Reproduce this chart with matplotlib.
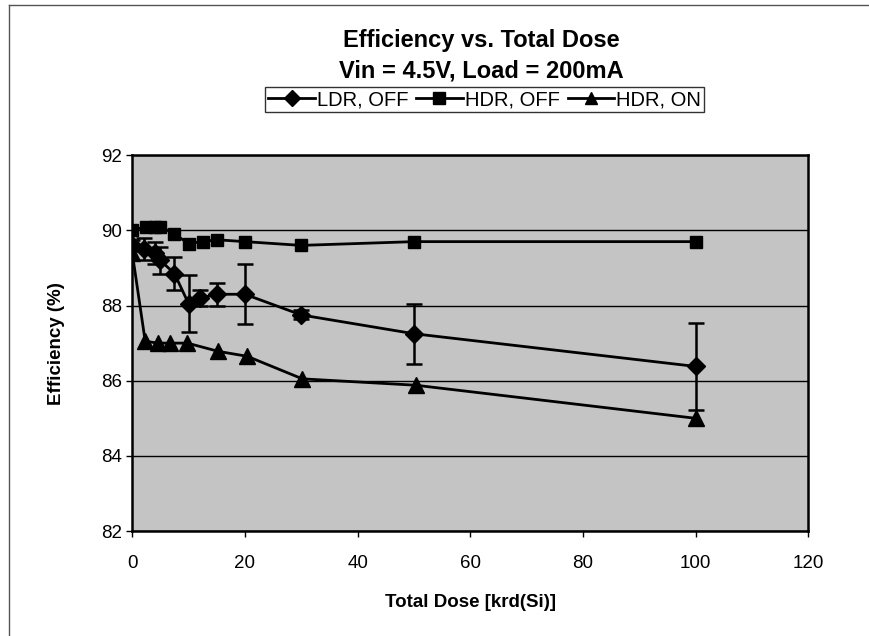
import matplotlib
matplotlib.use("Agg")
import matplotlib.pyplot as plt
from matplotlib.lines import Line2D

plt.rcParams['font.family'] = ['Liberation Sans', 'DejaVu Sans']

# Data
ldr_dose = [0, 2, 4, 5, 7.5, 10, 12, 15, 20, 30, 50, 100]
ldr_eff = [89.6, 89.5, 89.4, 89.2, 88.85, 88.05, 88.2, 88.3, 88.3, 87.75, 87.25, 86.38]
ldr_err = [0.15, 0.3, 0.3, 0.35, 0.45, 0.75, 0.2, 0.3, 0.8, 0.12, 0.8, 1.15]

hdr_off_dose = [0, 2.5, 4, 5, 7.5, 10, 12.5, 15, 20, 30, 50, 100]
hdr_off_eff = [90.0, 90.1, 90.1, 90.1, 89.9, 89.65, 89.7, 89.75, 89.7, 89.6, 89.7, 89.7]

hdr_on_dose = [0, 2.3, 4.6, 6.7, 9.8, 15.3, 20.4, 30.2, 50.3, 100]
hdr_on_eff = [89.4, 87.05, 87.0, 87.0, 87.0, 86.78, 86.65, 86.05, 85.88, 85.0]

fig = plt.figure(figsize=(8.7, 6.36), dpi=100)
ax = fig.add_axes([0.152, 0.165, 0.777, 0.591])
ax.set_facecolor('#c4c4c4')

ax.errorbar(ldr_dose, ldr_eff, yerr=ldr_err, color='black', lw=2, marker='D',
            ms=9, capsize=6, elinewidth=1.8, capthick=1.8, label='LDR, OFF', zorder=4)
ax.plot(hdr_off_dose, hdr_off_eff, color='black', lw=2, marker='s', ms=9,
        label='HDR, OFF', zorder=3)
ax.plot(hdr_on_dose, hdr_on_eff, color='black', lw=2, marker='^', ms=11,
        label='HDR, ON', zorder=3)

ax.set_xlim(0, 120)
ax.set_ylim(82, 92)
ax.set_xticks(range(0, 121, 20))
ax.set_yticks(range(82, 93, 2))
ax.yaxis.grid(True, color='black', lw=1)
ax.set_axisbelow(True)
for s in ax.spines.values():
    s.set_linewidth(1.8)
ax.tick_params(axis='both', labelsize=13.5, length=4, width=1)
ax.tick_params(axis='x', pad=13)
ax.set_xlabel('Total Dose [krd(Si)]', fontsize=13.5, fontweight='bold', labelpad=16)
ax.set_ylabel('Efficiency (%)', fontsize=13.5, fontweight='bold', labelpad=26)

# two title lines
fig.text(0.553, 0.937, 'Efficiency vs. Total Dose', ha='center', va='center',
         fontsize=17, fontweight='bold')
fig.text(0.553, 0.889, 'Vin = 4.5V, Load = 200mA', ha='center', va='center',
         fontsize=17, fontweight='bold')

handles = [Line2D([], [], color='black', lw=2, marker='D', ms=8),
           Line2D([], [], color='black', lw=2, marker='s', ms=8),
           Line2D([], [], color='black', lw=2, marker='^', ms=9)]
leg = fig.legend(handles, ['LDR, OFF', 'HDR, OFF', 'HDR, ON'], loc='center',
                 bbox_to_anchor=(0.557, 0.843), ncol=3, fontsize=14.5, frameon=True,
                 fancybox=False, edgecolor='black', handlelength=2.3,
                 handletextpad=0.1, columnspacing=0.4, borderpad=0.15)
leg.get_frame().set_linewidth(1)

# outer chart border (left and top)
fig.add_artist(Line2D([0.010, 0.010], [0.0, 0.992], color='#555555', lw=1))
fig.add_artist(Line2D([0.010, 1.0], [0.992, 0.992], color='#555555', lw=1))

fig.savefig('out.png', dpi=100)
